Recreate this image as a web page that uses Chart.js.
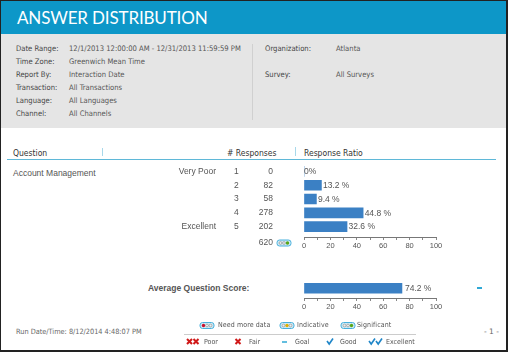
<!DOCTYPE html>
<html><head><meta charset="utf-8">
<script src="https://cdn.jsdelivr.net/npm/chart.js@4"></script>
<style>
html,body{margin:0;padding:0;background:#fff}
#page{position:relative;width:508px;height:352px;overflow:hidden;background:#fff;font-family:"DejaVu Sans",sans-serif;color:#555;filter:blur(.25px)}
.t{position:absolute;white-space:nowrap;line-height:10px}
.box{position:absolute}
canvas{position:absolute}
</style></head><body>
<div id="page">
<div class="box" style="left:1px;top:1px;width:505px;height:33px;background:#0d97c8"></div>
<div class="box" style="left:1px;top:34px;width:505px;height:94px;background:#e5e5e5"></div>
<div class="box" style="left:252px;top:44px;width:1px;height:76px;background:#d0d0d0"></div>
<div class="t" style="left:17px;top:8px;font:17px/20px 'Lato',sans-serif;color:#fff;letter-spacing:-.15px">ANSWER DISTRIBUTION</div>
<div id="meta"></div>
<div class="box" style="left:7px;top:159px;width:489px;height:1px;background:#5fb8d8"></div>
<div class="box" style="left:102px;top:148px;width:1px;height:8px;background:#a8d8ea"></div>
<div class="box" style="left:295px;top:147px;width:1px;height:9px;background:#a8d8ea"></div>
<div class="t" style="left:13px;top:147.5px;font:8.5px/10px 'DejaVu Sans Condensed','DejaVu Sans';font-stretch:condensed;color:#333">Question</div>
<div class="t" style="left:227px;top:147.5px;font:8.5px/10px 'DejaVu Sans Condensed','DejaVu Sans';font-stretch:condensed;color:#333"># Responses</div>
<div class="t" style="left:304px;top:147.5px;font:8.5px/10px 'DejaVu Sans Condensed','DejaVu Sans';font-stretch:condensed;color:#333">Response Ratio</div>
<div class="t" style="left:13px;top:168px;font:8.5px/10px 'Liberation Sans';color:#555">Account Management</div>
<canvas id="main" width="300" height="91" style="left:170px;top:160px"></canvas>
<canvas id="avg" width="220" height="34" style="left:250px;top:278px"></canvas>
<div class="t" style="left:148px;top:283px;font:bold 8.5px/10px 'Liberation Sans';color:#555">Average Question Score:</div>
<div class="box" style="left:477px;top:287px;width:5px;height:2px;background:#2fa8d5"></div>
<div class="t" style="left:16px;top:327px;font:7.3px/10px 'DejaVu Sans Condensed','DejaVu Sans';font-stretch:condensed;color:#666">Run Date/Time: 8/12/2014 4:48:07 PM</div>
<div class="t" style="left:484px;top:327px;font:7.5px/10px 'DejaVu Sans';color:#666">- 1 -</div>
<div id="legend"></div>
<div class="box" style="left:184px;top:334px;width:232px;height:1px;background:#ccc"></div>
<div class="box" style="left:0;top:0;border:1px solid #222;border-right:2px solid #222;border-bottom:2px solid #222;width:505px;height:349px"></div>
</div>
<script>
const categories=["1","2","3","4","5"];
const anchors=["Very Poor","","","","Excellent"];
const counts=[0,82,58,278,202];
const ratios=[0,13.2,9.4,44.8,32.6];
const ratioLabels=["0%","13.2 %","9.4 %","44.8 %","32.6 %"];
const total="620";
const avgCategory=["Average Question Score"];
const avgValue=[74.2];
const avgLabel=["74.2 %"];
const axisTicks=[0,20,40,60,80,100];
const metaLeft=[["Date Range:","12/1/2013 12:00:00 AM - 12/31/2013 11:59:59 PM"],["Time Zone:","Greenwich Mean Time"],["Report By:","Interaction Date"],["Transaction:","All Transactions"],["Language:","All Languages"],["Channel:","All Channels"]];
const metaRight=[["Organization:","Atlanta",49],["Survey:","All Surveys",75]];

const F="'DejaVu Sans Condensed','DejaVu Sans';font-stretch:condensed";
const meta=document.getElementById('meta');let h='';
metaLeft.forEach((r,i)=>{const y=44+i*13;
 h+=`<div class="t" style="left:16px;top:${y}px;font:7.6px/10px ${F};color:#444">${r[0]}</div>`;
 h+=`<div class="t" style="left:69px;top:${y}px;font:7.6px/10px ${F};color:#555">${r[1]}</div>`;});
metaRight.forEach(r=>{const y=r[2]-5;
 h+=`<div class="t" style="left:265px;top:${y}px;font:7.6px/10px ${F};color:#444">${r[0]}</div>`;
 h+=`<div class="t" style="left:336px;top:${y}px;font:7.6px/10px ${F};color:#555">${r[1]}</div>`;});
meta.innerHTML=h;

function pill(cx,cy,color,pos){const x=cx-7,s=[0,1,2].map(i=>{const c=x+3.5+i*3.5;return i===pos?`<circle cx="${c}" cy="${cy}" r="1.7" fill="${color}"/>`:`<circle cx="${c}" cy="${cy}" r="1.4" fill="#eee" stroke="#777" stroke-width=".5"/>`}).join('');
 return `<rect x="${x}" y="${cy-3}" width="14" height="6" rx="2.5" fill="#cfeaf5" stroke="#48b0dc"/>`+s;}
function cross(x,y){return `<path d="M${x-2.5} ${y-2.5}L${x+2.5} ${y+2.5}M${x+2.5} ${y-2.5}L${x-2.5} ${y+2.5}" stroke="#d01818" stroke-width="2"/>`}
function check(x,y){return `<path d="M${x-3} ${y-.5}L${x-.8} ${y+2.5}L${x+3} ${y-3}" stroke="#1f86c8" stroke-width="1.6" fill="none"/>`}
let svg=`<svg style="position:absolute;left:0;top:0" width="508" height="352">`;
svg+=pill(207,325.5,"#c8102e",0)+pill(287,325.5,"#e0b000",1)+pill(348,325.5,"#58a618",2);
svg+=pill(284,243,"#58a618",2);
svg+=cross(189.5,341.5)+cross(196,341.5)+cross(238,341.5)+`<path d="M282 342h5" stroke="#2fa8d5" stroke-width="1.5"/>`+check(330,341.5)+check(372,341.5)+check(379,341.5);
svg+=`</svg>`;
let l=svg;
[["Need more data",218],["Indicative",297],["Significant",357]].forEach(r=>{l+=`<div class="t" style="left:${r[1]}px;top:320px;font:7px/10px ${F};color:#555;letter-spacing:.1px">${r[0]}</div>`});
[["Poor",204],["Fair",249],["Goal",295],["Good",340],["Excellent",386]].forEach(r=>{l+=`<div class="t" style="left:${r[1]}px;top:336.5px;font:7px/10px ${F};color:#555">${r[0]}</div>`});
document.getElementById('legend').innerHTML=l;

const TXT='#555';
Chart.defaults.animation=false;
Chart.defaults.responsive=false;
Chart.defaults.font.family="'Liberation Sans'";
const valueLabels={id:'valueLabels',afterDatasetsDraw(c,a,o){const x=c.ctx,m=c.getDatasetMeta(0);x.save();x.fillStyle=TXT;x.font=o.font;x.textBaseline='middle';
 m.data.forEach((b,i)=>{x.fillText(o.labels[i],(o.values[i]>0?b.x+o.gap:b.x),b.y+.5)});x.restore();}};
const columns={id:'columns',afterDatasetsDraw(c){const x=c.ctx,y=c.scales.y;x.save();x.fillStyle=TXT;x.font="8.5px 'Liberation Sans'";x.textBaseline='middle';
 categories.forEach((k,i)=>{const p=y.getPixelForValue(+k);
  x.textAlign='right';x.fillText(anchors[i],46,p);x.fillText(String(counts[i]),103,p);
  x.textAlign='left';x.fillText(k,64,p);});
 x.textAlign='right';x.fillText(total,103,c.scales.x.top+6);x.restore();}};
function opts(labels,values,padTop,left,right,font,gap,yScale){return {
 layout:{padding:{left,right,top:padTop,bottom:0}},
 indexAxis:'y',
 plugins:{legend:{display:false},tooltip:{enabled:false},valueLabels:{labels,values,font,gap}},
 scales:{
  x:{min:0,max:100,afterBuildTicks(s){s.ticks=axisTicks.flatMap(v=>v<100?[{value:v},{value:v+10}]:[{value:v}])},
     grid:{drawOnChartArea:false,drawTicks:true,tickLength:3,color:'#777',tickColor:'#888'},
     border:{color:'#777',width:1},
     ticks:{autoSkip:false,maxRotation:0,padding:1,color:TXT,font:{size:7.5},callback:v=>axisTicks.includes(v)?String(v):''}},
  y:yScale
 }};}
new Chart(document.getElementById('main'),{type:'bar',
 data:{labels:categories,datasets:[{data:ratios,backgroundColor:'#3b80c4',barThickness:10,borderWidth:0}]},
 options:opts(ratioLabels,ratios,4.5,134,34,"8.5px 'Liberation Sans'",1.5,{type:'linear',display:false,reverse:true,offset:false,min:.5,max:5.75}),
 plugins:[valueLabels,columns]});
new Chart(document.getElementById('avg'),{type:'bar',
 data:{labels:avgCategory,datasets:[{data:avgValue,backgroundColor:'#3b80c4',barThickness:10,borderWidth:0}]},
 options:opts(avgLabel,avgValue,.5,54,34,"8.5px 'Liberation Sans'",3,{display:false,offset:true}),
 plugins:[valueLabels]});
</script>
</body></html>
